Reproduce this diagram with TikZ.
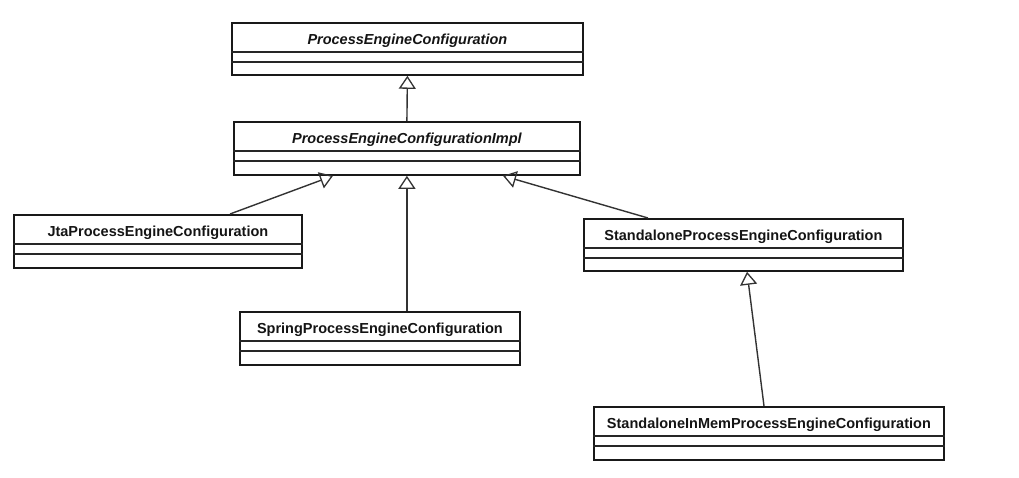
\documentclass[tikz,border=0pt]{standalone}
\usepackage{fontspec}
\setmainfont{Liberation Sans}
\usetikzlibrary{arrows.meta,calc}
\begin{document}
\begin{tikzpicture}[x=1pt,y=-1pt,
  cls/.style={draw=black!90, line width=1.8pt, inner sep=0pt, anchor=north west},
  divider/.style={draw=black!85, line width=1.2pt},
  title/.style={font=\fontsize{14.5}{16}\selectfont\bfseries, text=black!92, inner sep=0pt, anchor=base},
  abstract/.style={title, font=\fontsize{14.5}{16}\selectfont\bfseries\itshape},
  inherit/.style={draw=black!80, line width=1.4pt, -{Triangle[open, length=13pt, width=17pt, line width=1.3pt]}}
]
\useasboundingbox (0,0) rectangle (1019,477);
% usage: \umlcls{name}{x}{y}{w}{h}{style}{text}
\newcommand\umlcls[7]{%
  \node[cls, minimum width=#4pt, minimum height=#5pt] (#1) at (#2,#3) {};
  \node[#6] (#1-t) at ($(#1.north)+(0,22.5)$) {#7};
  \draw[divider] ($(#1.north west)+(0,30)$) -- ($(#1.north east)+(0,30)$);
  \draw[divider] ($(#1.north west)+(0,40)$) -- ($(#1.north east)+(0,40)$);
}
\umlcls{pec}{231}{22}{351}{52}{abstract}{ProcessEngineConfiguration}
\umlcls{peci}{233}{121}{346}{53}{abstract}{ProcessEngineConfigurationImpl}
\umlcls{jta}{13}{214}{288}{53}{title}{JtaProcessEngineConfiguration}
\umlcls{spring}{239}{311}{280}{53}{title}{SpringProcessEngineConfiguration}
\umlcls{sa}{583}{218}{319}{52}{title}{StandaloneProcessEngineConfiguration}
\umlcls{sim}{593}{406}{350}{53}{title}{StandaloneInMemProcessEngineConfiguration}

\draw[inherit] (peci.north) -- (pec.south);
\draw[inherit] ($(jta.north west)+(217,0)$) -- ($(peci.south west)+(100,0)$);
\draw[inherit] (spring.north -| peci.south) -- (peci.south);
\draw[inherit] ($(sa.north west)+(65,0)$) -- ($(peci.south west)+(270,0)$);
\draw[inherit] ($(sim.north west)+(171,0)$) -- ($(sa.south west)+(164,0)$);
\end{tikzpicture}
\end{document}
